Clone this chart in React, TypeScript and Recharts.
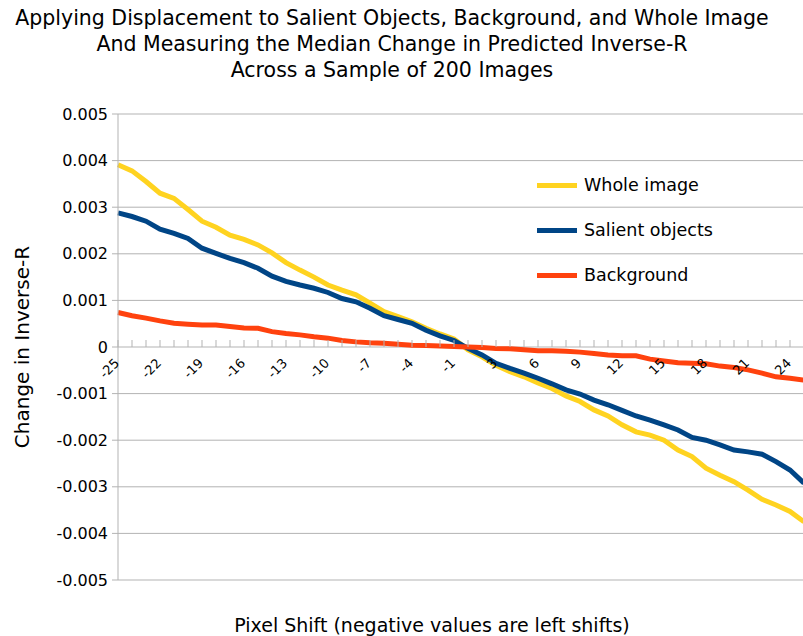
import React from 'react';
import { LineChart, Line, XAxis, YAxis, CartesianGrid } from 'recharts';

const SHIFTS = [
  -25, -24, -23, -22, -21, -20, -19, -18, -17, -16, -15, -14, -13, -12, -11, -10, -9, -8, -7, -6, -5, -4, -3, -2, -1,
  1, 2, 3, 4, 5, 6, 7, 8, 9, 10, 11, 12, 13, 14, 15, 16, 17, 18, 19, 20, 21, 22, 23, 24, 25,
];

const WHOLE_IMAGE = [
  0.00391, 0.00378, 0.00355, 0.0033, 0.00319, 0.00295, 0.0027, 0.00257, 0.0024, 0.00231,
  0.00219, 0.00202, 0.00181, 0.00165, 0.0015, 0.00133, 0.00122, 0.00112, 0.00094, 0.00076,
  0.00065, 0.00054, 0.0004, 0.00028, 0.00017, -0.00006, -0.00021, -0.00039, -0.00053, -0.00064,
  -0.00077, -0.00089, -0.00105, -0.00117, -0.00135, -0.00148, -0.00167, -0.00182, -0.00189, -0.002,
  -0.00221, -0.00235, -0.0026, -0.00275, -0.00289, -0.00307, -0.00327, -0.00339, -0.00353, -0.00375,
];

const SALIENT_OBJECTS = [
  0.00288, 0.0028, 0.0027, 0.00253, 0.00244, 0.00233, 0.00212, 0.00201, 0.0019, 0.00181,
  0.00169, 0.00152, 0.00141, 0.00133, 0.00126, 0.00117, 0.00104, 0.00097, 0.00083, 0.00067,
  0.00059, 0.00051, 0.00036, 0.00024, 0.00014, -0.00003, -0.00017, -0.00035, -0.00046, -0.00056,
  -0.00067, -0.00079, -0.00092, -0.00101, -0.00114, -0.00124, -0.00136, -0.00148, -0.00157, -0.00167,
  -0.00178, -0.00194, -0.002, -0.0021, -0.00221, -0.00225, -0.0023, -0.00246, -0.00264, -0.00292,
];

const BACKGROUND = [
  0.00074, 0.00067, 0.00062, 0.00056, 0.00051, 0.00049, 0.00047, 0.00047, 0.00044, 0.00041,
  0.0004, 0.00033, 0.00029, 0.00026, 0.00022, 0.00019, 0.00014, 0.00011, 0.00009, 0.00008,
  0.00006, 0.00004, 0.00003, 0.00002, 0.00001, 0, -0.00001, -0.00003, -0.00004, -0.00006,
  -0.00008, -0.00008, -0.00009, -0.00011, -0.00014, -0.00017, -0.00019, -0.00019, -0.00026, -0.0003,
  -0.00034, -0.00035, -0.00036, -0.00041, -0.00044, -0.00049, -0.00056, -0.00064, -0.00067, -0.00071,
];

const Y_TICKS = [0.005, 0.004, 0.003, 0.002, 0.001, 0, -0.001, -0.002, -0.003, -0.004, -0.005];

const SERIES = [
  { key: 'whole', name: 'Whole image', color: '#ffd320' },
  { key: 'salient', name: 'Salient objects', color: '#004586' },
  { key: 'background', name: 'Background', color: '#ff420e' },
];

const TITLE_LINES = [
  'Applying Displacement to Salient Objects, Background, and Whole Image',
  'And Measuring the Median Change in Predicted Inverse-R',
  'Across a Sample of 200 Images',
];

const data = SHIFTS.map((shift, i) => ({
  shift,
  whole: WHOLE_IMAGE[i],
  salient: SALIENT_OBJECTS[i],
  background: BACKGROUND[i],
}));

const FONT = '"DejaVu Sans", "Liberation Sans", sans-serif';
const GRID = '#b3b3b3';
const PLOT_TOP = 114;
const PLOT_BOTTOM = 580;
const ZERO_Y = (PLOT_TOP + PLOT_BOTTOM) / 2;

function ShiftTick(props: any) {
  const { x, payload } = props;
  const idx = SHIFTS.indexOf(payload.value);
  return (
    <g>
      <line x1={x} x2={x} y1={ZERO_Y - 7} y2={ZERO_Y} stroke={GRID} />
      {idx % 3 === 0 && (
        <text
          transform={`translate(${x + 2},${ZERO_Y + 17}) rotate(-45)`}
          textAnchor="end"
          fontSize={13}
          fontFamily={FONT}
          fill="#000"
        >
          {payload.value}
        </text>
      )}
    </g>
  );
}

export default function App() {
  return (
    <div
      style={{
        position: 'absolute',
        left: 0,
        top: 0,
        width: 803,
        height: 636,
        overflow: 'hidden',
        background: '#fff',
        fontFamily: FONT,
        color: '#000',
      }}
    >
      <div
        style={{
          position: 'absolute',
          left: 0,
          top: 5,
          width: 784,
          textAlign: 'center',
          fontSize: 20.5,
          lineHeight: '26px',
          whiteSpace: 'nowrap',
        }}
      >
        {TITLE_LINES.map((t) => (
          <div key={t}>{t}</div>
        ))}
      </div>

      <LineChart
        width={810}
        height={636}
        data={data}
        margin={{ top: PLOT_TOP, right: 6, bottom: 26, left: 0 }}
      >
        <CartesianGrid stroke={GRID} vertical={false} />
        <XAxis
          dataKey="shift"
          interval={0}
          axisLine={false}
          tickLine={false}
          height={30}
          tick={<ShiftTick />}
        />
        <YAxis
          width={118}
          domain={[-0.005, 0.005]}
          ticks={Y_TICKS}
          tickFormatter={(v: number) => (v === 0 ? '0' : v.toFixed(3))}
          tick={{ fill: '#000', fontSize: 16, fontFamily: FONT }}
          axisLine={{ stroke: GRID }}
          tickLine={{ stroke: GRID }}
          tickSize={6}
          tickMargin={4}
        />
        {SERIES.map((s) => (
          <Line
            key={s.key}
            dataKey={s.key}
            name={s.name}
            type="linear"
            stroke={s.color}
            strokeWidth={5}
            dot={false}
            isAnimationActive={false}
          />
        ))}
      </LineChart>

      <div
        style={{
          position: 'absolute',
          left: 22,
          top: 347,
          transform: 'translate(-50%, -50%) rotate(-90deg)',
          whiteSpace: 'nowrap',
          fontSize: 20,
        }}
      >
        Change in Inverse-R
      </div>

      <div
        style={{
          position: 'absolute',
          left: 432,
          top: 625,
          transform: 'translate(-50%, -50%)',
          whiteSpace: 'nowrap',
          fontSize: 19,
        }}
      >
        Pixel Shift (negative values are left shifts)
      </div>

      {SERIES.map((s, i) => (
        <div
          key={s.key}
          style={{
            position: 'absolute',
            left: 537,
            top: 185 + i * 45,
            transform: 'translateY(-50%)',
            display: 'flex',
            alignItems: 'center',
            fontSize: 17.5,
            whiteSpace: 'nowrap',
          }}
        >
          <span style={{ display: 'inline-block', width: 40, height: 5, background: s.color, marginRight: 7 }} />
          {s.name}
        </div>
      ))}
    </div>
  );
}
